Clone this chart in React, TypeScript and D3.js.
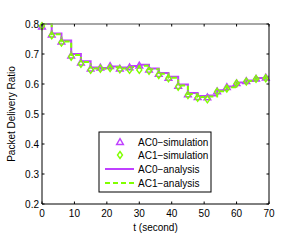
import React, { useEffect, useRef } from "react";
import * as d3 from "d3";

// sample times (s) for simulation points and analysis steps
const times = [0, 3, 6, 9, 12, 15, 18, 21, 24, 27, 30, 33, 36, 39, 42, 45, 48, 51, 54, 57, 60, 63, 66, 69];
const ac0Sim = [0.792, 0.765, 0.742, 0.695, 0.672, 0.652, 0.655, 0.66, 0.652, 0.656, 0.662, 0.648, 0.634, 0.621, 0.594, 0.566, 0.557, 0.556, 0.576, 0.59, 0.603, 0.61, 0.618, 0.622];
const ac1Sim = [0.793, 0.762, 0.738, 0.691, 0.667, 0.647, 0.651, 0.653, 0.649, 0.647, 0.647, 0.644, 0.63, 0.619, 0.591, 0.563, 0.554, 0.549, 0.574, 0.585, 0.602, 0.608, 0.617, 0.619];
const ac0Ana = [0.8, 0.768, 0.745, 0.7, 0.676, 0.655, 0.653, 0.658, 0.655, 0.66, 0.664, 0.652, 0.637, 0.624, 0.598, 0.57, 0.56, 0.562, 0.579, 0.592, 0.605, 0.612, 0.62, 0.624];
const ac1Ana = [0.8, 0.766, 0.742, 0.697, 0.673, 0.652, 0.651, 0.656, 0.652, 0.657, 0.661, 0.649, 0.634, 0.621, 0.595, 0.567, 0.557, 0.558, 0.576, 0.589, 0.603, 0.61, 0.618, 0.622];
const xTicks = [0, 10, 20, 30, 40, 50, 60, 70];
const yTicks = [0.2, 0.3, 0.4, 0.5, 0.6, 0.7, 0.8];
const legendItems = ["AC0\u2212simulation", "AC1\u2212simulation", "AC0\u2212analysis", "AC1\u2212analysis"];

const PURPLE = "#bf40ff";
const GREEN = "#80ff00";

export default function App() {
  const ref = useRef<SVGSVGElement>(null);

  useEffect(() => {
    const svg = d3.select(ref.current);
    svg.selectAll("*").remove();
    const W = 283, H = 241;
    const m = { left: 42, right: 269, top: 24, bottom: 204 };
    const font = "'Liberation Sans', Arial, sans-serif";

    const x = d3.scaleLinear().domain([0, 70]).range([m.left, m.right]);
    const y = d3.scaleLinear().domain([0.2, 0.8]).range([m.bottom, m.top]);

    svg.append("rect").attr("width", W).attr("height", H).attr("fill", "#fff");

    const line = d3.line<[number, number]>()
      .x(d => x(d[0]))
      .y(d => y(d[1]))
      .curve(d3.curveStepAfter);

    const ana0: [number, number][] = times.map((t, i) => [t, ac0Ana[i]]);
    ana0.push([70, ac0Ana[ac0Ana.length - 1]]);
    const ana1: [number, number][] = times.map((t, i) => [t, ac1Ana[i]]);
    ana1.push([70, ac1Ana[ac1Ana.length - 1]]);

    svg.append("path").datum(ana0)
      .attr("fill", "none").attr("stroke", PURPLE).attr("stroke-width", 2)
      .attr("d", line);
    svg.append("path").datum(ana1)
      .attr("fill", "none").attr("stroke", GREEN).attr("stroke-width", 2)
      .attr("stroke-dasharray", "5,3")
      .attr("d", line);

    const tri = d3.symbol().type(d3.symbolTriangle).size(20);
    const dia = (cx: number, cy: number) =>
      `M${cx},${cy - 3.5}L${cx + 2.5},${cy}L${cx},${cy + 3.5}L${cx - 2.5},${cy}Z`;

    svg.append("g").selectAll("path").data(times).join("path")
      .attr("transform", (t, i) => `translate(${x(t)},${y(ac0Sim[i]) + 0.6})`)
      .attr("d", tri())
      .attr("fill", "none").attr("stroke", PURPLE).attr("stroke-width", 1.4);
    svg.append("g").selectAll("path").data(times).join("path")
      .attr("d", (t, i) => dia(x(t), y(ac1Sim[i])))
      .attr("fill", "none").attr("stroke", GREEN).attr("stroke-width", 1.4);

    // axes box with inward ticks
    const axes = svg.append("g");
    axes.append("line").attr("x1", m.left).attr("x2", m.right).attr("y1", m.top).attr("y2", m.top)
      .attr("stroke", "#888").attr("stroke-width", 1.5);
    axes.append("line").attr("x1", m.left).attr("x2", m.right).attr("y1", m.bottom).attr("y2", m.bottom)
      .attr("stroke", "#000");
    axes.append("line").attr("x1", m.left).attr("x2", m.left).attr("y1", m.top).attr("y2", m.bottom)
      .attr("stroke", "#000");
    axes.append("line").attr("x1", m.right).attr("x2", m.right).attr("y1", m.top).attr("y2", m.bottom)
      .attr("stroke", "#000");

    const tl = 2.5;
    xTicks.forEach(t => {
      axes.append("line").attr("x1", x(t)).attr("x2", x(t)).attr("y1", m.bottom).attr("y2", m.bottom - tl).attr("stroke", "#000");
      axes.append("line").attr("x1", x(t)).attr("x2", x(t)).attr("y1", m.top).attr("y2", m.top + tl).attr("stroke", "#000");
      axes.append("text").attr("x", x(t)).attr("y", m.bottom + 13)
        .attr("text-anchor", "middle").attr("font-family", font).attr("font-size", 10)
        .text(t);
    });
    yTicks.forEach(v => {
      axes.append("line").attr("x1", m.left).attr("x2", m.left + tl).attr("y1", y(v)).attr("y2", y(v)).attr("stroke", "#000");
      axes.append("line").attr("x1", m.right).attr("x2", m.right - tl).attr("y1", y(v)).attr("y2", y(v)).attr("stroke", "#000");
      axes.append("text").attr("x", m.left - 3).attr("y", y(v) + 3.5)
        .attr("text-anchor", "end").attr("font-family", font).attr("font-size", 10)
        .text(v.toFixed(1));
    });

    svg.append("text").attr("x", (m.left + m.right) / 2).attr("y", 231)
      .attr("text-anchor", "middle").attr("font-family", font).attr("font-size", 10)
      .text("t (second)");
    svg.append("text").attr("transform", `translate(15,${(m.top + m.bottom) / 2}) rotate(-90)`)
      .attr("text-anchor", "middle").attr("font-family", font).attr("font-size", 10)
      .text("Packet Delivery Ratio");

    // legend
    const lg = svg.append("g");
    lg.append("rect").attr("x", 99).attr("y", 132).attr("width", 112).attr("height", 60)
      .attr("fill", "#fff").attr("stroke", "#000").attr("stroke-width", 1);
    const rowY = [142, 155, 169, 183];
    lg.append("path").attr("transform", `translate(120,${rowY[0] + 0.6})`).attr("d", tri())
      .attr("fill", "none").attr("stroke", PURPLE).attr("stroke-width", 1.4);
    lg.append("path").attr("d", dia(120, rowY[1]))
      .attr("fill", "none").attr("stroke", GREEN).attr("stroke-width", 1.4);
    lg.append("line").attr("x1", 105).attr("x2", 134).attr("y1", rowY[2]).attr("y2", rowY[2])
      .attr("stroke", PURPLE).attr("stroke-width", 2);
    lg.append("line").attr("x1", 105).attr("x2", 134).attr("y1", rowY[3]).attr("y2", rowY[3])
      .attr("stroke", GREEN).attr("stroke-width", 2).attr("stroke-dasharray", "5,3");
    legendItems.forEach((s, i) => {
      lg.append("text").attr("x", 138).attr("y", rowY[i] + 3.5)
        .attr("font-family", font).attr("font-size", 10).text(s);
    });
  }, []);

  return (
    <svg ref={ref} width={283} height={241}
      style={{ position: "absolute", left: 0, top: 0, display: "block" }} />
  );
}
